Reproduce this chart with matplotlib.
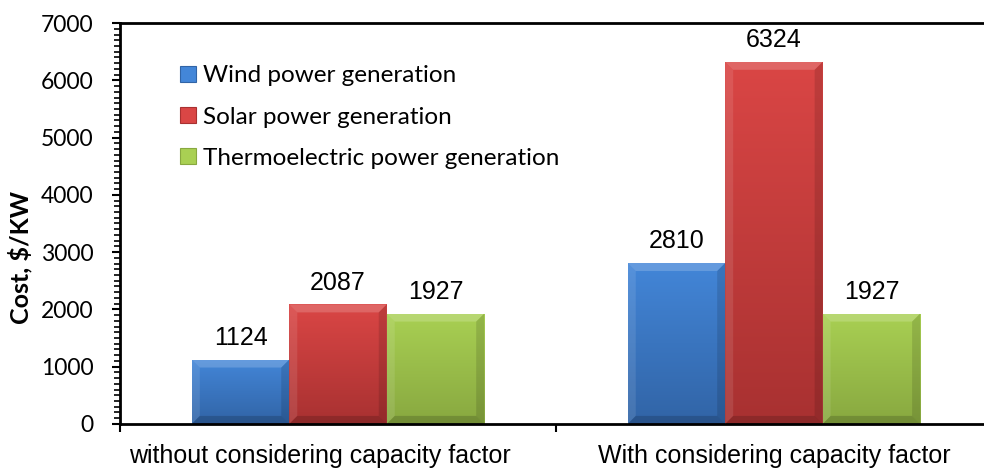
import numpy as np
import matplotlib
matplotlib.use('Agg')
import matplotlib.pyplot as plt
import matplotlib.transforms as mtransforms
from matplotlib.colors import LinearSegmentedColormap
from matplotlib.patches import Polygon, Patch
from matplotlib.ticker import MultipleLocator, FixedLocator

categories = ['without considering capacity factor', 'With considering capacity factor']
series = ['Wind power generation', 'Solar power generation', 'Thermoelectric power generation']
wind = [1124, 2810]
solar = [2087, 6324]
thermo = [1927, 1927]

# top / bottom gradient colours for each series
top_cols = ['#4386d8', '#da4645', '#a9d053']
bot_cols = ['#3164a6', '#a83131', '#88a840']

fig = plt.figure(figsize=(9.84, 4.71), dpi=100)
ax = fig.add_axes([0.122, 0.100, 0.886, 0.851])

x = np.arange(len(categories))
w = 0.2236
ymax = 7000

def bevel(ax, bar, dxp=8, dyp=8):
    # bevel edges, sized in pixels and converted to data units
    x0, y0 = bar.get_x(), bar.get_y()
    x1, y1 = x0 + bar.get_width(), y0 + bar.get_height()
    dx = dxp * 2.0 / 872
    dy = dyp * ymax / 401
    faces = [
        ([(x0, y1), (x1, y1), (x1 - dx, y1 - dy), (x0 + dx, y1 - dy)], 'white', 0.18),
        ([(x0, y0), (x0, y1), (x0 + dx, y1 - dy), (x0 + dx, y0 + dy)], 'white', 0.10),
        ([(x1, y0), (x1, y1), (x1 - dx, y1 - dy), (x1 - dx, y0 + dy)], 'black', 0.12),
        ([(x0, y0), (x1, y0), (x1 - dx, y0 + dy), (x0 + dx, y0 + dy)], 'black', 0.16),
    ]
    for pts, c, a in faces:
        ax.add_patch(Polygon(pts, closed=True, facecolor=c, alpha=a, edgecolor='none', zorder=3))

data = [wind, solar, thermo]
for i, vals in enumerate(data):
    bars = ax.bar(x + (i - 1) * w, vals, w, color=top_cols[i], edgecolor='none', zorder=1)
    cmap = LinearSegmentedColormap.from_list('g%d' % i, [top_cols[i], bot_cols[i]])
    for b, v in zip(bars, vals):
        grad = np.linspace(0, 1, 256).reshape(-1, 1)
        im = ax.imshow(grad, extent=[b.get_x(), b.get_x() + b.get_width(), 0, v],
                       aspect='auto', cmap=cmap, origin='upper', zorder=2)
        im.set_clip_path(b)
        bevel(ax, b)
        ax.annotate(str(v), (b.get_x() + b.get_width() / 2, v), xytext=(0, 7),
                    textcoords='offset points', ha='center', va='bottom',
                    fontsize=18, family='Liberation Sans')

ax.set_xlim(-0.5, 1.5)
ax.set_ylim(0, ymax)

# axes styling
ax.spines['right'].set_visible(False)
for s in ['left', 'bottom', 'top']:
    ax.spines[s].set_linewidth(2)

ax.yaxis.set_major_locator(MultipleLocator(1000))
ax.yaxis.set_minor_locator(MultipleLocator(100))
ax.tick_params(axis='y', which='major', length=6, width=1.5, pad=13, labelsize=16.5)
ax.tick_params(axis='y', which='minor', length=4, width=1.2)
for lab in ax.get_yticklabels():
    lab.set_family('Lato')

ax.xaxis.set_major_locator(FixedLocator([-0.5, 0.5, 1.5]))
ax.xaxis.set_major_formatter(plt.NullFormatter())
ax.xaxis.set_minor_locator(FixedLocator(x))
ax.set_xticklabels(categories, minor=True, fontsize=18, family='Liberation Sans')
ax.tick_params(axis='x', which='major', length=6, width=1.5)
ax.tick_params(axis='x', which='minor', length=0, pad=14.5)
# first category label sits a little left of its group centre in the original
first = ax.get_xticklabels(minor=True)[0]
first.set_transform(first.get_transform() + mtransforms.ScaledTranslation(-18 / 100, 0, fig.dpi_scale_trans))

ax.set_ylabel('Cost, $/KW', fontsize=18, fontweight='bold', family='Lato')
ax.yaxis.set_label_coords(-0.101, 0.416)

handles = [Patch(facecolor=c, edgecolor=bc, linewidth=0.8) for c, bc in zip(top_cols, bot_cols)]
fig.legend(handles, series, loc='upper left', bbox_to_anchor=(0.183, 0.861),
           frameon=False, prop={'family': 'Lato', 'size': 17.5},
           handlelength=0.66, handleheight=0.66, handletextpad=0.29,
           labelspacing=0.83, borderpad=0, borderaxespad=0)

fig.savefig('out.png', dpi=100)
